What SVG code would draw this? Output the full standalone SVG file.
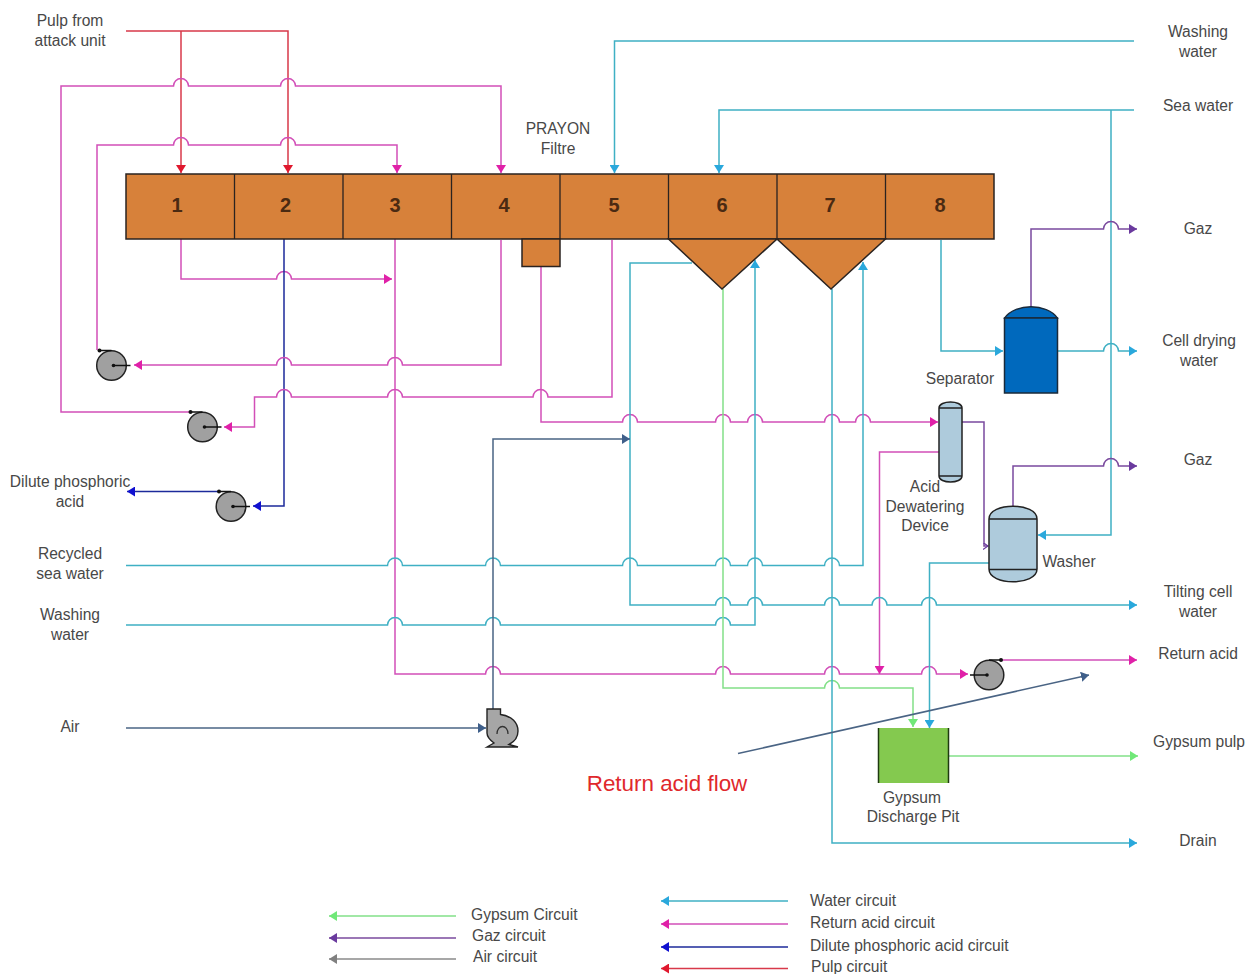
<svg xmlns="http://www.w3.org/2000/svg" xmlns:xlink="http://www.w3.org/1999/xlink" width="1248" height="974" viewBox="0 0 1248 974">
<style>
text{font-family:"Liberation Sans",Arial,sans-serif;font-size:15.6px;fill:#484848;text-anchor:middle}
.n{font-size:20px;font-weight:bold;fill:#4a2a12}
.s{text-anchor:start}
.c path,.l path{fill:none;stroke-width:1.5}
.pulp{stroke:#d8394a;marker-end:url(#aR)}
.acid{stroke:#d24fb8;marker-end:url(#aP)}
.acid0{stroke:#d24fb8}
.water{stroke:#3fb0c4;marker-end:url(#aW)}
.dil{stroke:#1c2a9a;marker-end:url(#aB)}
.gas{stroke:#7a4a9e;marker-end:url(#aG)}
.air{stroke:#4a6484;marker-end:url(#aA)}
.gyp{stroke:#82e088;marker-end:url(#aY)}
.grey{stroke:#8a8a8a;marker-end:url(#aK)}
</style>
<defs>
<marker id="aR" markerUnits="userSpaceOnUse" markerWidth="9" markerHeight="10" refX="8" refY="5" orient="auto"><path d="M0,0L8,5L0,10Z" fill="#e0182e"/></marker>
<marker id="aP" markerUnits="userSpaceOnUse" markerWidth="9" markerHeight="10" refX="8" refY="5" orient="auto"><path d="M0,0L8,5L0,10Z" fill="#e020a8"/></marker>
<marker id="aW" markerUnits="userSpaceOnUse" markerWidth="9" markerHeight="10" refX="8" refY="5" orient="auto"><path d="M0,0L8,5L0,10Z" fill="#2aa8dc"/></marker>
<marker id="aB" markerUnits="userSpaceOnUse" markerWidth="9" markerHeight="10" refX="8" refY="5" orient="auto"><path d="M0,0L8,5L0,10Z" fill="#1010d0"/></marker>
<marker id="aG" markerUnits="userSpaceOnUse" markerWidth="9" markerHeight="10" refX="8" refY="5" orient="auto"><path d="M0,0L8,5L0,10Z" fill="#6a3a9e"/></marker>
<marker id="aS" markerUnits="userSpaceOnUse" markerWidth="6" markerHeight="7" refX="5" refY="3.500" orient="auto"><path d="M0,0L5,3.500L0,7" fill="none" stroke="#6a3a9e" stroke-width="1.200"/></marker>
<marker id="aA" markerUnits="userSpaceOnUse" markerWidth="9" markerHeight="10" refX="8" refY="5" orient="auto"><path d="M0,0L8,5L0,10Z" fill="#3f5f8a"/></marker>
<marker id="aY" markerUnits="userSpaceOnUse" markerWidth="9" markerHeight="10" refX="8" refY="5" orient="auto"><path d="M0,0L8,5L0,10Z" fill="#70e878"/></marker>
<marker id="aK" markerUnits="userSpaceOnUse" markerWidth="9" markerHeight="10" refX="8" refY="5" orient="auto"><path d="M0,0L8,5L0,10Z" fill="#808080"/></marker>
<g id="pumpL">
<circle r="14.800" fill="#a0a0a0" stroke="#222" stroke-width="1.500"/>
<path d="M2,0H19M-12,-15H0" stroke="#111" stroke-width="1.300" fill="none"/>
<circle cx="2" r="1.800" fill="#111"/><circle cx="-12" cy="-15" r="2" fill="#111"/>
</g>
</defs>

<g id="connectors" class="c">
<path class="pulp" d="M126,31H288V173"/>
<path class="pulp" d="M181,31V173"/>
<path class="acid" d="M190,412H61V86H173.500A7.500,7.500 0 0 1 188.500,86H280.500A7.500,7.500 0 0 1 295.500,86H501V173"/>
<path class="acid" d="M97,350V145H173.500A7.500,7.500 0 0 1 188.500,145H280.500A7.500,7.500 0 0 1 295.500,145H397V173"/>
<path class="acid" d="M181,239V279H276.500A7.500,7.500 0 0 1 291.500,279H392"/>
<path class="dil" d="M284,239V506H253"/>
<path class="dil" d="M219,491.500H127"/>
<path class="acid" d="M501,240V365H402.500A7.500,7.500 0 0 0 387.500,365H291.500A7.500,7.500 0 0 0 276.500,365H134"/>
<path class="acid" d="M612,240V397H548A7.500,7.500 0 0 0 533,397H402.500A7.500,7.500 0 0 0 387.500,397H291.500A7.500,7.500 0 0 0 276.500,397H254.500V427H224"/>
<path class="acid" d="M541,267V422H622.500A7.500,7.500 0 0 1 637.500,422H715.500A7.500,7.500 0 0 1 730.500,422H747.500A7.500,7.500 0 0 1 762.500,422H824.500A7.500,7.500 0 0 1 839.500,422H855.500A7.500,7.500 0 0 1 870.500,422H938"/>
<path class="acid" d="M395,239V674H485.500A7.500,7.500 0 0 1 500.500,674H715.500A7.500,7.500 0 0 1 730.500,674H824.500A7.500,7.500 0 0 1 839.500,674H921.500A7.500,7.500 0 0 1 936.500,674H968"/>
<path class="acid" d="M939,452H879.500V674"/>
<path class="acid" d="M1001,660H1137"/>
<path class="water" d="M126,565.500H387.500A7.500,7.500 0 0 1 402.500,565.500H485.500A7.500,7.500 0 0 1 500.500,565.500H622.500A7.500,7.500 0 0 1 637.500,565.500H715.500A7.500,7.500 0 0 1 730.500,565.500H747.500A7.500,7.500 0 0 1 762.500,565.500H824.500A7.500,7.500 0 0 1 839.500,565.500H863V262"/>
<path class="water" d="M126,625H387.500A7.500,7.500 0 0 1 402.500,625H485.500A7.500,7.500 0 0 1 500.500,625H715.500A7.500,7.500 0 0 1 730.500,625H755V260"/>
<path class="water" d="M692,263H630V605H715.500A7.500,7.500 0 0 1 730.500,605H747.500A7.500,7.500 0 0 1 762.500,605H824.500A7.500,7.500 0 0 1 839.500,605H872A7.500,7.500 0 0 1 887,605H921.500A7.500,7.500 0 0 1 936.500,605H1137"/>
<path class="air" d="M126,728H486"/>
<path class="air" d="M493,709V439H630"/>
<path class="gyp" d="M723,289V688H824.500A7.500,7.500 0 0 1 839.500,688H913V727"/>
<path class="water" d="M832,289V843H1137"/>
<path class="water" d="M989,563H929.500V728"/>
<path class="water" d="M1134,41H614.500V173"/>
<path class="water" d="M1134,110H719V173"/>
<path class="water" d="M1111,110V535H1038"/>
<path class="water" d="M941,240V351H1003"/>
<path class="water" d="M1058,351H1103.500A7.500,7.500 0 0 1 1118.500,351H1137"/>
<path class="gas" d="M1031,307V229H1103.500A7.500,7.500 0 0 1 1118.500,229H1137"/>
<path class="gas" d="M1013,506V466H1103.500A7.500,7.500 0 0 1 1118.500,466H1137"/>
<path class="gas" style="marker-end:url(#aS)" d="M962,422H984V546H988"/>
<path class="gyp" d="M949,756H1138"/>
<path class="air" d="M738,753.500L1089,675"/>
</g>

<g id="filter">
<path d="M126,174H994V239H126Z" fill="#d7813a" stroke="#2a2320" stroke-width="1.500"/>
<path d="M234.500,174V239M343,174V239M451.500,174V239M560,174V239M668.500,174V239M777,174V239M885.500,174V239" stroke="#2a2320" stroke-width="1.300" fill="none"/>
<text class="n" x="177" y="212">1</text><text class="n" x="285.500" y="212">2</text><text class="n" x="395" y="212">3</text><text class="n" x="504" y="212">4</text><text class="n" x="614" y="212">5</text><text class="n" x="722" y="212">6</text><text class="n" x="830" y="212">7</text><text class="n" x="940" y="212">8</text>
</g>
<g id="filter-box"><rect x="522" y="239" width="38" height="27.500" fill="#d7813a" stroke="#2a2320" stroke-width="1.500"/></g>
<g id="hopper-6"><path d="M668.500,239H777L722,289Z" fill="#d7813a" stroke="#2a2320" stroke-width="1.500"/></g>
<g id="hopper-7"><path d="M777,239H885.500L831,289Z" fill="#d7813a" stroke="#2a2320" stroke-width="1.500"/></g>
<g id="filter-label"><text x="558" y="134">PRAYON</text><text x="558" y="154">Filtre</text></g>

<g id="pump-1"><use href="#pumpL" x="111.500" y="365.500"/></g>
<g id="pump-2"><use href="#pumpL" x="202.500" y="427"/></g>
<g id="pump-3"><use href="#pumpL" x="231" y="506.500"/></g>
<g id="pump-4"><use href="#pumpL" transform="translate(989,675) scale(-1,1)"/></g>

<g id="blower">
<path d="M487,709H500.500V714.500C512,716 518,723 518,731C518,738 514,742 509,744.500L518,747H487L494,743C490,740 487,737 487,733Z" fill="#a6a6a6" stroke="#222" stroke-width="1.400"/>
<path d="M497,734C497,724 508,724 508,734" fill="none" stroke="#333" stroke-width="1.300"/>
</g>

<g id="separator">
<path d="M1004.500,318C1015,303 1047,303 1057.500,318Z" fill="#0069bd" stroke="#1a2a3a" stroke-width="1.300"/>
<rect x="1004.500" y="318" width="53" height="75" fill="#0069bd" stroke="#1a2a3a" stroke-width="1.500"/>
<text x="960" y="384">Separator</text>
</g>
<g id="dewatering">
<path d="M939,408C939,400 962,400 962,408V476C962,484 939,484 939,476Z" fill="#aecbdc" stroke="#222" stroke-width="1.500"/>
<path d="M939,408H962M939,476H962" stroke="#222" stroke-width="1.300"/>
<text x="925" y="492">Acid</text><text x="925" y="512">Dewatering</text><text x="925" y="531">Device</text>
</g>
<g id="washer">
<path d="M989,519C989,502 1037,502 1037,519V569C1037,586 989,586 989,569Z" fill="#aecbdc" stroke="#222" stroke-width="1.500"/>
<path d="M989,519H1037M989,569.500H1037" stroke="#222" stroke-width="1.300"/>
<text x="1069" y="567">Washer</text>
</g>
<g id="gypsum-pit">
<rect x="878.500" y="728" width="70" height="55" fill="#84c94f"/>
<path d="M878.500,728V783M948.500,728V783" stroke="#1f3a10" stroke-width="1.500"/>
<text x="912" y="803">Gypsum</text><text x="913" y="822">Discharge Pit</text>
</g>

<g id="labels">
<text x="70" y="26">Pulp from</text><text x="70" y="46">attack unit</text>
<text x="1198" y="37">Washing</text><text x="1198" y="57">water</text>
<text x="1198" y="111">Sea water</text>
<text x="1198" y="234">Gaz</text>
<text x="1199" y="346">Cell drying</text><text x="1199" y="366">water</text>
<text x="1198" y="465">Gaz</text>
<text x="1198" y="597">Tilting cell</text><text x="1198" y="617">water</text>
<text x="1198" y="659">Return acid</text>
<text x="1199" y="747">Gypsum pulp</text>
<text x="1198" y="846">Drain</text>
<text x="70" y="487">Dilute phosphoric</text><text x="70" y="507">acid</text>
<text x="70" y="559">Recycled</text><text x="70" y="579">sea water</text>
<text x="70" y="620">Washing</text><text x="70" y="640">water</text>
<text x="70" y="732">Air</text>
<text x="667" y="791" style="font-size:22.400px;fill:#e0282c">Return acid flow</text>
</g>

<g id="legend" class="l">
<path class="gyp" d="M456,916H329"/><text class="s" x="471" y="920">Gypsum Circuit</text>
<path class="gas" d="M456,938H329"/><text class="s" x="472" y="941">Gaz circuit</text>
<path class="grey" d="M456,959H329"/><text class="s" x="473" y="962">Air circuit</text>
<path class="water" d="M788,901H661"/><text class="s" x="810" y="906">Water circuit</text>
<path class="acid" d="M788,924H661"/><text class="s" x="810" y="928">Return acid circuit</text>
<path class="dil" d="M788,947H661"/><text class="s" x="810" y="951">Dilute phosphoric acid circuit</text>
<path class="pulp" d="M788,968.500H661"/><text class="s" x="811" y="972">Pulp circuit</text>
</g>
</svg>
